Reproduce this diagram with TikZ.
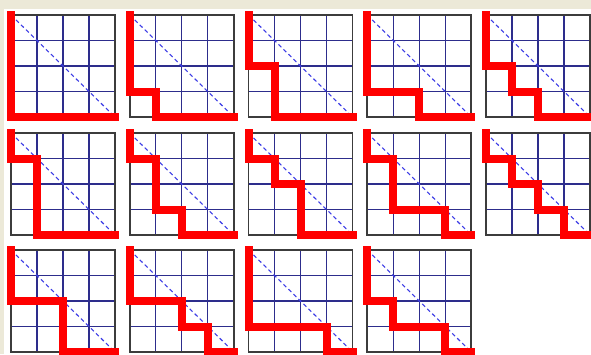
\documentclass[tikz,border=0pt]{standalone}
\usepackage{tikz}

\definecolor{winbeige}{RGB}{236,233,216}
\definecolor{gridnavy}{RGB}{45,45,140}
\definecolor{diagblue}{RGB}{60,60,230}
\definecolor{framegray}{RGB}{60,60,60}

\newcommand{\dyckpanel}[3]{%
    \begin{scope}[shift={(#1,#2)}, x=26pt, y=-25.5pt]
        \foreach \k in {1,2,3} {
            \draw[gridline] (\k,0) -- (\k,4);
            \draw[gridline] (0,\k) -- (4,\k);
        }
        \draw[diagline] (0,0) -- (4,4);
        \draw[frameline] (0,0) rectangle (4,4);
        \draw[pathline] (0,0) #3;
    \end{scope}}

\begin{document}
\begin{tikzpicture}[x=1pt, y=-1pt,
    gridline/.style={draw=gridnavy, line width=1.3pt},
    diagline/.style={draw=diagblue, line width=1.1pt, dash pattern=on 4pt off 3pt},
    frameline/.style={draw=framegray, line width=1.6pt},
    pathline/.style={draw=red, line width=8pt, line cap=rect, line join=miter}]

    \useasboundingbox (0,0) rectangle (591,354);
    \fill[white] (0,0) rectangle (591,354);
    \fill[winbeige] (0,0) rectangle (591,9);
    \fill[winbeige] (0,0) rectangle (4,354);

    \dyckpanel{11}{15}{-- (0,4) -- (4,4)}
    \dyckpanel{129.75}{15}{-- (0,3) -- (1,3) -- (1,4) -- (4,4)}
    \dyckpanel{248.5}{15}{-- (0,2) -- (1,2) -- (1,4) -- (4,4)}
    \dyckpanel{367.25}{15}{-- (0,3) -- (2,3) -- (2,4) -- (4,4)}
    \dyckpanel{486}{15}{-- (0,2) -- (1,2) -- (1,3) -- (2,3) -- (2,4) -- (4,4)}

    \dyckpanel{11}{133}{-- (0,1) -- (1,1) -- (1,4) -- (4,4)}
    \dyckpanel{129.75}{133}{-- (0,1) -- (1,1) -- (1,3) -- (2,3) -- (2,4) -- (4,4)}
    \dyckpanel{248.5}{133}{-- (0,1) -- (1,1) -- (1,2) -- (2,2) -- (2,4) -- (4,4)}
    \dyckpanel{367.25}{133}{-- (0,1) -- (1,1) -- (1,3) -- (3,3) -- (3,4) -- (4,4)}
    \dyckpanel{486}{133}{-- (0,1) -- (1,1) -- (1,2) -- (2,2) -- (2,3) -- (3,3) -- (3,4) -- (4,4)}

    \dyckpanel{11}{250}{-- (0,2) -- (2,2) -- (2,4) -- (4,4)}
    \dyckpanel{129.75}{250}{-- (0,2) -- (2,2) -- (2,3) -- (3,3) -- (3,4) -- (4,4)}
    \dyckpanel{248.5}{250}{-- (0,3) -- (3,3) -- (3,4) -- (4,4)}
    \dyckpanel{367.25}{250}{-- (0,2) -- (1,2) -- (1,3) -- (3,3) -- (3,4) -- (4,4)}

\end{tikzpicture}
\end{document}
